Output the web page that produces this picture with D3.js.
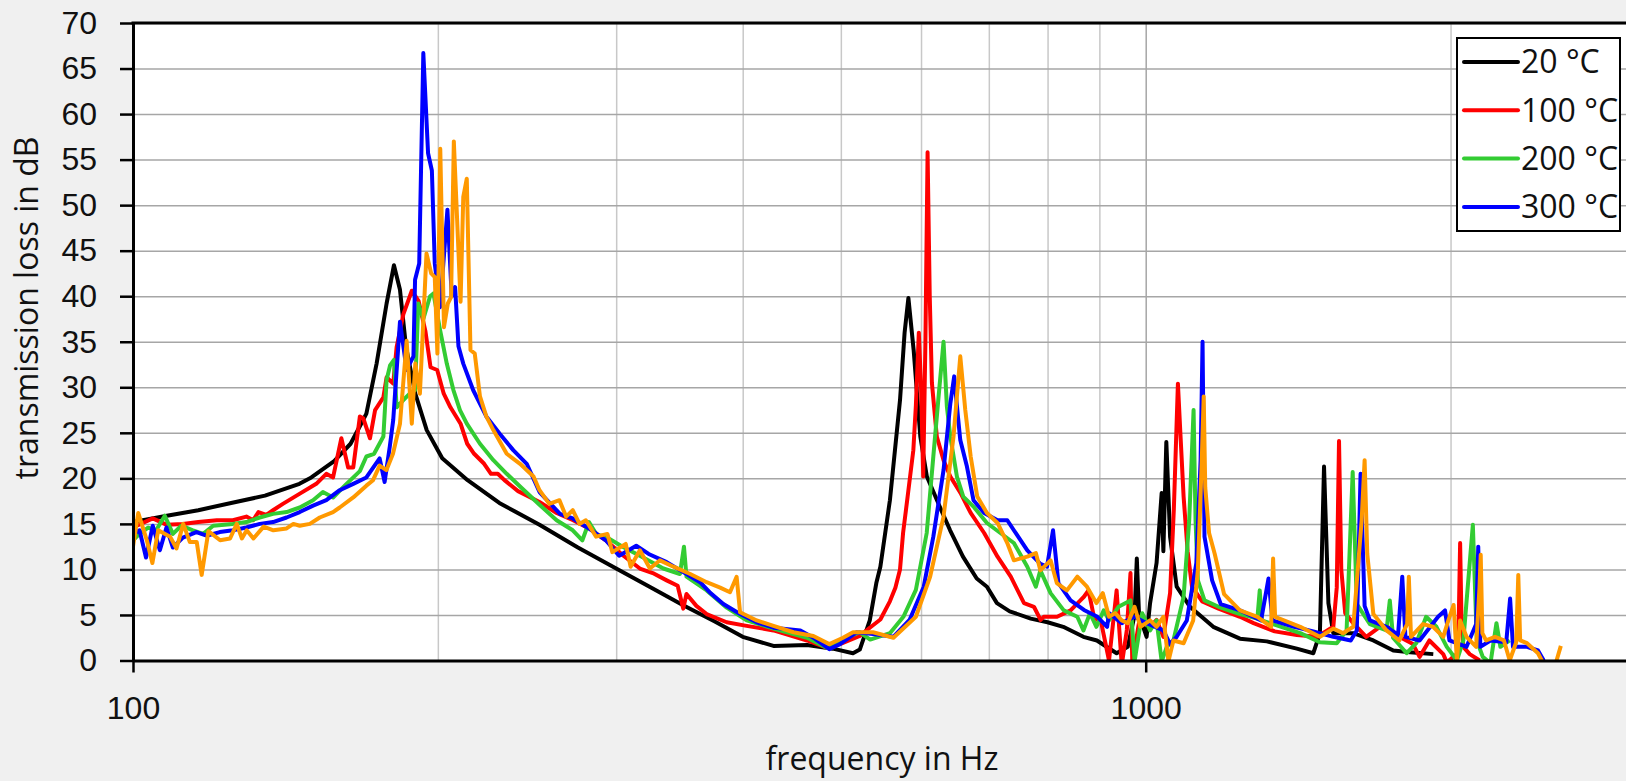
<!DOCTYPE html>
<html>
<head>
<meta charset="utf-8">
<script src="https://cdn.jsdelivr.net/npm/d3@7"></script>
<style>
  html, body { margin: 0; padding: 0; background: #f0f0f0; }
  svg { display: block; font-family: "Open Sans", "DejaVu Sans", sans-serif; }
  .grid line { stroke: #a6a6a6; stroke-width: 1.5; }
  .grid path { display: none; }
  .vgrid line { stroke: #c8c8c8; stroke-width: 1.5; }
  .vgrid path { display: none; }
  .axis text { font-size: 32px; fill: #111; }
  .axis line { stroke: #000; stroke-width: 2.5; }
  .axis path { stroke: #000; stroke-width: 3; }
  .label { font-size: 32px; fill: #111; }
</style>
</head>
<body>
<svg width="1626" height="781"></svg>
<script>
// frequency in Hz, transmission loss in dB
const legendLabels = ['20 °C', '100 °C', '200 °C', '300 °C'];
const yTicks = [0, 5, 10, 15, 20, 25, 30, 35, 40, 45, 50, 55, 60, 65, 70];
const xTickLabels = [100, 1000];
const xGridMinor = [200, 300, 400, 500, 600, 700, 800, 900, 2000, 3000];

const data20 = [[100,15.2],[108,15.9],[116,16.5],[125,17.3],[135,18.1],[146,19.4],[150,20.1],[158,21.9],[164,23.8],[168,26],[170,27.1],[174,32.6],[178,39.2],[181,43.4],[183.5,40.7],[186,34.5],[190,29.3],[195,25.3],[202,22.2],[214,19.8],[230,17.3],[252,14.9],[275,12.4],[300,10.1],[325,8],[349,6.1],[375,4.3],[400,2.6],[429,1.6],[463,1.7],[491,1.3],[514,0.8],[522,1.2],[534,4.4],[542,8.5],[547,10.3],[559,17.6],[572,28.6],[578,36],[583,39.8],[590,34.1],[599,24.6],[608,20.2],[626,16.9],[641,14.3],[660,11.4],[681,9.0],[697,8.1],[713,6.3],[734,5.4],[770,4.6],[800,4.2],[829,3.7],[868,2.6],[895,2.2],[936,0.8],[960,1.5],[975,5],[980,11.2],[985,5],[1002,2.6],[1010,6.3],[1025,10.7],[1037,18.4],[1041,12],[1048,24],[1057,13.6],[1073,8.1],[1106,5.9],[1166,3.7],[1239,2.4],[1317,2.1],[1410,1.3],[1464,0.8],[1486,3],[1500,21.3],[1515,6.3],[1532,3],[1603,3],[1678,2.2],[1756,1.1],[1824,0.9],[1923,0.7]];

const data100 = [[100,14.6],[104.6,15.6],[108,14.9],[112,15],[116,15.2],[121,15.4],[125.5,15.4],[129.4,15.8],[131.4,15.4],[133,16.3],[135.4,16],[137.5,16.5],[140.6,17.2],[146,18.3],[151.7,19.4],[155.2,20.5],[157.6,20.1],[160.6,24.4],[163.1,21.2],[165,21.2],[167.5,26.8],[168.8,26.6],[171.4,24.4],[173.4,27.5],[176.7,28.9],[178,31.1],[180.7,30.4],[182.1,34.4],[184.9,38],[188.5,40.6],[191.4,39.5],[194.4,36.2],[196.7,32.2],[199.7,31.9],[202.7,29.3],[205.8,27.8],[210.6,26],[213.8,23.8],[217.2,22.7],[222.2,21.6],[225.7,20.5],[229.2,20.5],[232.7,19.8],[240,18.6],[252,17.4],[262,16.2],[272,15.4],[282,14.5],[293,13.2],[305,11.5],[316.6,10.1],[326,9.6],[336.5,8.8],[345,8.2],[349.4,5.7],[352,7.3],[360,6],[368.5,5.1],[385.7,4.2],[403.6,3.8],[429,3.3],[463,2.2],[484,1.4],[499,1.8],[522,2.7],[534,3.6],[547,4.5],[559,6.5],[566,8],[572,10],[576,14],[582,18],[589.6,23.1],[593,28],[597,36],[600,30],[603,20.2],[606,35],[609,55.8],[612,40],[615,30.5],[621.9,24.6],[631.5,22],[641.3,20.2],[656.3,18.4],[671.7,16.2],[692.6,14],[714,11.4],[735.8,9.2],[758.3,6.3],[775.6,5.9],[787.4,4.45],[793,4.8],[817.5,4.8],[843,5.5],[862,6.6],[869,7],[878,7.7],[889,4.8],[904,4.1],[920,0],[936,7.7],[947,-0.5],[958,3.35],[966,9.6],[970,-0.3],[987,4.8],[1010,3.7],[1025,4.45],[1041,2.6],[1057,7.4],[1066,16.5],[1076,30.4],[1082,25],[1090,18],[1100,12],[1111,8.1],[1137,6.5],[1180,5.7],[1239,4.8],[1278,4.1],[1341,3.2],[1410,2.8],[1477,2.6],[1532,3.7],[1544,8],[1552,24.1],[1560,10],[1574,5.2],[1603,4.1],[1651,2.6],[1703,3.7],[1729,3.8],[1780,2.6],[1836,1.8],[1864,0.4],[1906,2.2],[1967,0.7],[1983,-0.2],[2029,0.7],[2038,5],[2044,12.9],[2050,5],[2059,1.5],[2089,0.7],[2137,0]];

const data200 = [[100,13.2],[101.5,13.9],[103.5,14.6],[105.4,14.3],[107.5,15.9],[109.5,13.9],[111.6,14.8],[114.6,14.3],[117.3,13.9],[120,14.8],[125.5,15],[129.4,15.2],[133.4,15.7],[137.5,16.1],[141.8,16.3],[146.1,16.8],[150.6,17.6],[154,18.5],[157.6,17.9],[162.5,19.4],[167.5,20.8],[170,22.4],[173,22.7],[176.7,24.6],[178,30.8],[179.4,32.4],[181,33],[182.1,27.8],[184.9,28.6],[187.6,29.3],[189.9,29.7],[191.3,39.2],[193.5,37.5],[196.5,40],[198,40.3],[201,36.3],[204.1,32.6],[207.2,29.7],[210.3,27.5],[213.6,26],[220.1,23.8],[226.9,22],[233.9,20.5],[241.1,19.1],[252,17.1],[262,15.4],[271.8,14.3],[277.8,13.2],[282,15.2],[287,13.8],[293,13.6],[304.4,12.5],[316.6,11.5],[334,10.1],[346.8,9.5],[350,12.5],[352,9.2],[368.5,7.7],[385.7,5.8],[403.6,4.4],[429,3.5],[463,2.5],[484,1.4],[499,2.2],[522,3.1],[534.5,2.3],[559,3],[576.4,4.8],[593,7.75],[607.8,14],[617,22.4],[624,28.6],[631.5,35],[636.3,27.9],[641.3,24.6],[651,20.2],[660.5,18],[676,16.9],[697,15.1],[718.6,14],[741,12.9],[764,10.3],[779,8.1],[787,9.9],[805.5,7.4],[830,5.5],[856,4.8],[868,3.3],[881,5.2],[894,3.7],[909,5.5],[920,4.4],[940,5.9],[966,6.6],[975,-0.1],[992,5.2],[1010,3.3],[1025,4.4],[1037,-0.1],[1049,1.5],[1065,2.2],[1090,7],[1104,15.4],[1115,27.5],[1120,15.4],[1126,8.8],[1143,6.6],[1180,5.9],[1239,5.1],[1289,4.6],[1296,7.7],[1302,4.4],[1361,3.7],[1421,3],[1486,2],[1544,1.9],[1579,3.3],[1601,20.7],[1616,6.2],[1665,4],[1729,3.3],[1742,6.6],[1755,2.5],[1810,0.8],[1850,1.9],[1892,4.8],[1937,3.7],[1983,1.5],[2029,0],[2059,2.2],[2104,14.9],[2123,2.2],[2152,0.4],[2190,-0.3],[2220,4.1],[2240,1.5],[2288,2.2]];

const data300 = [[100,13.9],[101.5,14.3],[103,11.3],[104.6,14.8],[106.3,12.1],[107.9,14.6],[109.5,12.4],[112,13.5],[115.5,14.1],[118.2,13.7],[121.8,14.1],[125.5,14.3],[129.4,14.6],[133.4,15],[137.5,15.2],[141.8,15.7],[146.1,16.3],[150.6,17],[155.2,17.6],[160,18.7],[165,19.4],[170,20.1],[175.2,22.2],[177.2,19.6],[179.3,23.5],[180.7,26.4],[183.5,37.2],[186.3,31.9],[189.2,33.4],[189.9,41.8],[191.7,43.6],[193.5,66.7],[195.6,55.7],[197.3,53.8],[198.6,43.6],[201,38.8],[204.4,49.5],[206.4,40],[208,41],[209.6,34.5],[211.9,32.6],[216.7,29.7],[223.3,26.8],[230.2,24.9],[237.4,23.1],[244.8,21.6],[252,18.5],[264,16.1],[271.8,15.6],[282,14.5],[293,13.2],[302,11.5],[314,12.6],[323,11.7],[336.5,10.8],[349.4,9.7],[363,8.6],[371,7.5],[382.8,6.2],[397.6,5.1],[413,4.2],[429,3.6],[456,3.3],[469.7,2.5],[487,1.25],[499,1.8],[518,3.1],[538,2.9],[563.5,2.6],[584.5,4.45],[603.7,8.1],[617,13.6],[631.5,20.9],[641.3,28.2],[647,31.2],[652.5,26.8],[656,24.2],[666,21.3],[676,17.6],[692.6,16.2],[714,15.4],[730,15.4],[741,14.3],[764,12.1],[787,10.6],[799,10.3],[810,14.3],[820,8.5],[843,6.6],[869,5.55],[896,4.8],[916,3.7],[920,5.2],[947,4.1],[975,4.8],[1002,4.1],[1041,3.3],[1057,1.8],[1073,2.6],[1098,4.4],[1122,10.7],[1133,22],[1138,35],[1143,13.6],[1163,8.8],[1186,6.2],[1239,5.5],[1300,4.4],[1322,9],[1334,4.4],[1401,3.7],[1464,3.2],[1532,2.6],[1594,2.2],[1616,3.3],[1630,20.5],[1645,6],[1665,4.4],[1729,3.7],[1775,2.8],[1792,9.2],[1805,2.6],[1864,2.2],[1944,4.8],[1975,5.5],[1995,2.2],[2074,1.5],[2120,4],[2130,12.5],[2140,1.5],[2190,2.2],[2270,2],[2290,6.8],[2305,1.5],[2380,1.5],[2440,1.1],[2472,0]];

const dataExtra = [[100,12.5],[101.2,16.2],[103.2,13.2],[104.5,10.7],[105.9,14.3],[108.8,13.6],[110.4,12.3],[112.1,15],[113.8,13],[115.6,13],[116.9,9.4],[118.7,14.2],[121.9,13.2],[124.7,13.4],[126.6,15],[128.1,13.4],[129.5,14.3],[131.5,13.4],[134.6,14.7],[137.6,14.3],[141.8,14.5],[144,15],[146.1,14.8],[149.5,15],[152.9,15.7],[157.6,16.3],[160,16.8],[165,17.9],[170,19.2],[172.6,19.8],[175.2,21.4],[177.9,20.9],[180.6,22.7],[183.5,26],[186.3,35.1],[188.5,26],[190,32.6],[192,29.3],[194.9,44.7],[197,42.5],[198.6,42.1],[199.8,33.7],[201.1,56.2],[202.8,36.6],[204.6,39.2],[206.1,39.9],[207.4,57],[210.6,39.4],[211.9,50.9],[213.6,52.9],[215.4,34.1],[217.5,33.7],[220.1,29],[223.3,26.8],[226.9,25.3],[233.9,22.7],[241.1,21.6],[248.6,20.2],[252,18.7],[257.7,17.2],[263.7,17.6],[267.7,15.8],[271.8,16.5],[276,15],[280,15.4],[286.6,13.6],[294.1,13.9],[297.4,11.9],[306.6,12.8],[310,10.3],[316.6,12.1],[323.9,10.1],[331.4,11],[341.8,10.3],[355,9.5],[368.5,8.6],[380,8],[388.6,7.5],[394.5,9.2],[397.6,5.3],[413,4.4],[429,3.8],[449,3.1],[469.7,2.7],[487,1.8],[502.5,2.5],[514,3.1],[538,3.1],[563.5,2.5],[593,4.8],[612.5,9.2],[631.5,15.8],[646,24.6],[656,33.4],[663.5,27.5],[671.7,22.4],[681.8,18],[697,16.2],[714,15.1],[730,12.9],[741,11],[764,11.4],[779,11.8],[787,9.9],[805.5,11],[817,8.5],[836,7.7],[856,9.2],[875,8.1],[894,6.3],[907,7.4],[920,4.8],[933,5.2],[947,4.4],[960,4.1],[975,5.9],[988,3.7],[1010,4.4],[1025,3.7],[1041,4.8],[1053,-0.1],[1065,2.2],[1090,1.9],[1114,4.4],[1126,10],[1136,22],[1141,29],[1145,19],[1155,14],[1170,11.7],[1195,7.3],[1239,5.5],[1289,4.8],[1330,3.7],[1336,11.2],[1342,4.8],[1421,3.7],[1486,2.6],[1532,3.5],[1566,3],[1603,3.7],[1634,15.4],[1645,22],[1655,11.7],[1678,5.1],[1729,3.3],[1780,2.2],[1812,4],[1819,9.2],[1828,2.6],[1878,4],[1922,3.7],[1967,2.6],[1990,4.4],[2014,6.1],[2029,0],[2044,4.4],[2074,2.6],[2120,1.5],[2136,8],[2142,11.6],[2150,3],[2168,2.2],[2213,2.6],[2258,2.2],[2288,0],[2322,2],[2333,9.4],[2343,2.2],[2380,1.9],[2440,0.8],[2472,-0.4],[2520,-1],[2545,0],[2570,1.6]];

const svg = d3.select('svg');

const plotLeft = 133, plotTop = 23, plotBottom = 660.5, plotRight = 1626;
const decade = 1012.7;

const x = d3.scaleLog().domain([100, 3000]).range([plotLeft, plotLeft + decade * Math.log10(30)]);
const y = d3.scaleLinear().domain([0, 70]).range([plotBottom, plotTop]);

// plot area
svg.append('rect')
    .attr('x', plotLeft).attr('y', plotTop)
    .attr('width', plotRight - plotLeft).attr('height', plotBottom - plotTop)
    .attr('fill', '#fff');

svg.append('defs').append('clipPath').attr('id', 'plot')
    .append('rect')
    .attr('x', plotLeft).attr('y', plotTop)
    .attr('width', plotRight - plotLeft).attr('height', plotBottom - plotTop);

// vertical grid lines
svg.append('g')
    .attr('class', 'vgrid')
    .attr('transform', `translate(0, ${plotBottom})`)
    .call(d3.axisBottom(x).tickValues(xGridMinor).tickSize(-(plotBottom - plotTop)).tickFormat(''));

svg.append('g')
    .attr('class', 'grid')
    .attr('transform', `translate(0, ${plotBottom})`)
    .call(d3.axisBottom(x).tickValues([1000]).tickSize(-(plotBottom - plotTop)).tickFormat(''));

// horizontal grid lines
svg.append('g')
    .attr('class', 'grid')
    .attr('transform', `translate(${plotLeft}, 0)`)
    .call(d3.axisLeft(y).tickValues(yTicks).tickSize(-(plotRight - plotLeft)).tickFormat(''));

// series
const series = [
    { values: data20, color: '#000000' },
    { values: data100, color: '#ff0000' },
    { values: data200, color: '#33cc33' },
    { values: data300, color: '#0000ff' },
    { values: dataExtra, color: '#ff9900' }
];

const line = d3.line()
    .x(d => x(d[0]))
    .y(d => y(d[1]));

const lines = svg.append('g').attr('clip-path', 'url(#plot)');
lines.selectAll('path')
    .data(series)
    .enter()
    .append('path')
    .attr('d', s => line(s.values))
    .attr('fill', 'none')
    .attr('stroke', s => s.color)
    .attr('stroke-width', 4)
    .attr('stroke-linejoin', 'round');

// axes
svg.append('g')
    .attr('class', 'axis')
    .attr('transform', `translate(${plotLeft}, 0)`)
    .call(d3.axisLeft(y).tickValues(yTicks).tickSizeInner(13).tickSizeOuter(0).tickPadding(23));

svg.append('g')
    .attr('class', 'axis')
    .attr('transform', `translate(0, ${plotBottom})`)
    .call(d3.axisBottom(x).tickValues(xTickLabels).tickSizeInner(12).tickSizeOuter(0).tickPadding(24).tickFormat(d3.format('d')));

// top border
svg.append('line')
    .attr('x1', plotLeft - 1.5).attr('x2', plotRight)
    .attr('y1', plotTop).attr('y2', plotTop)
    .attr('stroke', '#000').attr('stroke-width', 3);

// titles
svg.append('text')
    .attr('class', 'label')
    .attr('transform', 'translate(38, 308) rotate(-90)')
    .attr('text-anchor', 'middle')
    .text('transmission loss in dB');

svg.append('text')
    .attr('class', 'label')
    .attr('x', 882)
    .attr('y', 770)
    .attr('text-anchor', 'middle')
    .text('frequency in Hz');

// legend
const legend = svg.append('g').attr('transform', 'translate(1457, 38)');
legend.append('rect')
    .attr('width', 163).attr('height', 193)
    .attr('fill', '#fff')
    .attr('stroke', '#000').attr('stroke-width', 2);

const items = legend.selectAll('.item')
    .data(legendLabels)
    .enter()
    .append('g')
    .attr('transform', (d, i) => `translate(0, ${24 + i * 48.3})`);

items.append('line')
    .attr('x1', 7).attr('x2', 61)
    .attr('stroke', (d, i) => series[i].color)
    .attr('stroke-width', 4)
    .attr('stroke-linecap', 'round');

items.append('text')
    .attr('class', 'label')
    .attr('x', 64)
    .attr('dy', '0.35em')
    .text(d => d);
</script>
</body>
</html>
